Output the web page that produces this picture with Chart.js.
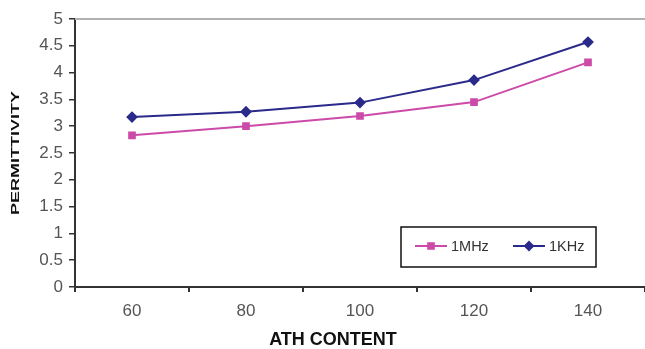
<!DOCTYPE html>
<html>
<head>
<meta charset="utf-8">
<script src="https://cdn.jsdelivr.net/npm/chart.js@4"></script>
<style>
  html, body { margin: 0; padding: 0; background: #fff; }
  #wrap { width: 645px; height: 349px; }
</style>
</head>
<body>
<div id="wrap"><canvas id="c" width="645" height="349"></canvas></div>
<script>
// ATH content (x categories)
const athContent = ['60', '80', '100', '120', '140'];
// Permittivity at 1 MHz
const mhzValues = [2.83, 3.00, 3.19, 3.45, 4.19];
// Permittivity at 1 kHz
const khzValues = [3.17, 3.27, 3.44, 3.86, 4.57];
// Y tick labels
const yTickLabels = ['0', '0.5', '1', '1.5', '2', '2.5', '3', '3.5', '4', '4.5', '5'];

const PINK = '#cc4aa8';
const NAVY = '#2a2a8a';
const FONT = '"Liberation Sans", Arial, sans-serif';

// Frame, axis titles and boxed legend drawn on the canvas
const decorations = {
  id: 'decorations',
  afterDraw(chart) {
    const { ctx, chartArea: a } = chart;
    ctx.save();
    // grey top border
    ctx.strokeStyle = '#b0b0b0';
    ctx.lineWidth = 2;
    ctx.beginPath();
    ctx.moveTo(a.left, a.top);
    ctx.lineTo(a.right, a.top);
    ctx.stroke();

    // axis titles
    ctx.fillStyle = '#111';
    ctx.font = 'bold 18px ' + FONT;
    ctx.textAlign = 'center';
    ctx.textBaseline = 'middle';
    ctx.fillText('ATH CONTENT', 333, 340);
    ctx.save();
    ctx.translate(15.5, (a.top + a.bottom) / 2);
    ctx.rotate(-Math.PI / 2);
    ctx.scale(1, 0.62);
    ctx.fillText('PERMITTIVITY', 0, 1);
    ctx.restore();

    // legend box
    const bx = 401, by = 227, bw = 195, bh = 40;
    ctx.fillStyle = '#fff';
    ctx.fillRect(bx, by, bw, bh);
    ctx.strokeStyle = '#111';
    ctx.lineWidth = 1.5;
    ctx.strokeRect(bx, by, bw, bh);
    const cy = by + 19;
    const items = chart.data.datasets.map((d, i) => ({
      label: d.label, color: d.borderColor, style: d.pointStyle,
      x0: i === 0 ? 415 : 513
    }));
    ctx.font = '14.5px ' + FONT;
    ctx.textAlign = 'left';
    items.forEach(it => {
      ctx.strokeStyle = it.color;
      ctx.lineWidth = 2;
      ctx.beginPath();
      ctx.moveTo(it.x0, cy);
      ctx.lineTo(it.x0 + 32, cy);
      ctx.stroke();
      ctx.fillStyle = it.color;
      Chart.helpers.drawPoint(ctx, { pointStyle: it.style, radius: 4, borderWidth: 1 }, it.x0 + 16, cy);
      ctx.fillStyle = '#333';
      ctx.fillText(it.label, it.x0 + 36, cy + 1);
    });
    ctx.restore();
  }
};

new Chart(document.getElementById('c'), {
  type: 'line',
  data: {
    labels: athContent,
    datasets: [
      {
        label: '1MHz',
        data: mhzValues,
        borderColor: PINK,
        backgroundColor: PINK,
        pointStyle: 'rect',
        pointRadius: 4,
        borderWidth: 2,
        tension: 0
      },
      {
        label: '1KHz',
        data: khzValues,
        borderColor: NAVY,
        backgroundColor: NAVY,
        pointStyle: 'rectRot',
        pointRadius: 4.5,
        borderWidth: 2,
        tension: 0
      }
    ]
  },
  options: {
    responsive: false,
    animation: false,
    devicePixelRatio: 1,
    layout: { autoPadding: false, padding: { top: 19, right: -2, left: 0, bottom: 0 } },
    plugins: {
      legend: { display: false },
      tooltip: { enabled: false }
    },
    scales: {
      x: {
        offset: true,
        grid: {
          display: true,
          drawOnChartArea: false,
          drawTicks: true,
          offset: true,
          tickLength: 5,
          color: '#333',
          lineWidth: 2
        },
        border: { display: true, color: '#333', width: 2 },
        ticks: {
          color: '#555',
          font: { family: FONT, size: 17 },
          padding: 9
        },
        afterFit(scale) { scale.height = 62; }
      },
      y: {
        min: 0,
        max: 5,
        grid: {
          display: true,
          drawOnChartArea: false,
          drawTicks: true,
          tickLength: 6,
          color: '#333',
          lineWidth: 1.5
        },
        border: { display: true, color: '#333', width: 2 },
        ticks: {
          stepSize: 0.5,
          color: '#555',
          font: { family: FONT, size: 17 },
          padding: 6,
          callback: (v, i) => yTickLabels[i]
        },
        afterFit(scale) { scale.width = 75; }
      }
    }
  },
  plugins: [decorations]
});
</script>
</body>
</html>
